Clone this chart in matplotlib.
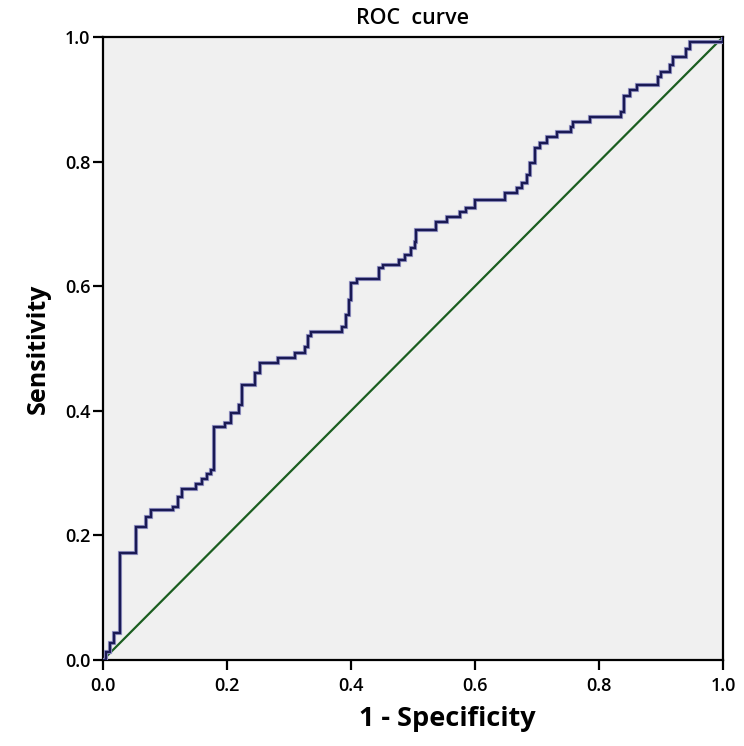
import matplotlib
matplotlib.use("Agg")
import matplotlib.pyplot as plt

plt.rcParams['font.family'] = ['Open Sans', 'DejaVu Sans']

fpr = [0, 0.005, 0.011, 0.018, 0.027, 0.053, 0.069, 0.077, 0.113, 0.121, 0.128,
       0.15, 0.16, 0.168, 0.174, 0.179, 0.197, 0.207, 0.22, 0.224, 0.245, 0.254,
       0.282, 0.31, 0.325, 0.33, 0.335, 0.385, 0.392, 0.397, 0.4, 0.41, 0.445,
       0.452, 0.477, 0.487, 0.497, 0.503, 0.505, 0.537, 0.555, 0.575, 0.585, 0.6,
       0.648, 0.668, 0.676, 0.684, 0.688, 0.697, 0.705, 0.716, 0.733, 0.755,
       0.758, 0.785, 0.835, 0.84, 0.85, 0.862, 0.895, 0.9, 0.915, 0.92, 0.94,
       0.947, 1.0]
tpr = [0, 0.013, 0.027, 0.043, 0.172, 0.213, 0.23, 0.24, 0.246, 0.262, 0.274,
       0.282, 0.29, 0.298, 0.305, 0.374, 0.38, 0.396, 0.41, 0.441, 0.46, 0.477,
       0.485, 0.493, 0.503, 0.52, 0.527, 0.535, 0.554, 0.578, 0.605, 0.612, 0.63,
       0.634, 0.642, 0.65, 0.661, 0.671, 0.69, 0.703, 0.711, 0.719, 0.725, 0.738,
       0.75, 0.758, 0.766, 0.778, 0.797, 0.822, 0.83, 0.84, 0.847, 0.856,
       0.864, 0.872, 0.88, 0.905, 0.915, 0.923, 0.935, 0.944, 0.955, 0.968, 0.98,
       0.992, 1.0]
ref_line = [0, 1]
ticks = [0.0, 0.2, 0.4, 0.6, 0.8, 1.0]
tick_labels = ['0.0', '0.2', '0.4', '0.6', '0.8', '1.0']

fig = plt.figure(figsize=(7.44, 7.46), dpi=100)
ax = fig.add_axes([103/744, 1-660/746, 620/744, 623/746])
ax.set_facecolor('#f0f0f0')
ax.plot(ref_line, ref_line, color='#1b5e20', lw=1.6, zorder=2)
ax.plot(fpr, tpr, drawstyle='steps-post', color='#9a9ac8', lw=3.0, zorder=3,
        solid_joinstyle='miter')
ax.plot(fpr, tpr, drawstyle='steps-post', color='#1a1a55', lw=1.7, zorder=4,
        solid_joinstyle='miter')
ax.set_xlim(0, 1)
ax.set_ylim(0, 1)
ax.set_xticks(ticks)
ax.set_xticklabels(tick_labels)
ax.set_yticks(ticks)
ax.set_yticklabels(tick_labels)
ax.tick_params(direction='out', length=7, width=1.6, labelsize=13, colors='black')
ax.tick_params(axis='x', pad=5)
ax.tick_params(axis='y', pad=2)
for lab in ax.get_xticklabels() + ax.get_yticklabels():
    lab.set_fontweight('semibold')
for s in ax.spines.values():
    s.set_linewidth(1.6)
    s.set_color('black')
ax.set_title('ROC  curve', fontsize=15.5, fontweight='semibold', pad=9)
ax.set_xlabel('1 - Specificity', fontsize=19.5, fontweight='bold')
ax.xaxis.set_label_coords(0.555, -0.074)
ax.set_ylabel('Sensitivity', fontsize=18, fontweight='bold', labelpad=10)
fig.savefig('out.png', dpi=100)
